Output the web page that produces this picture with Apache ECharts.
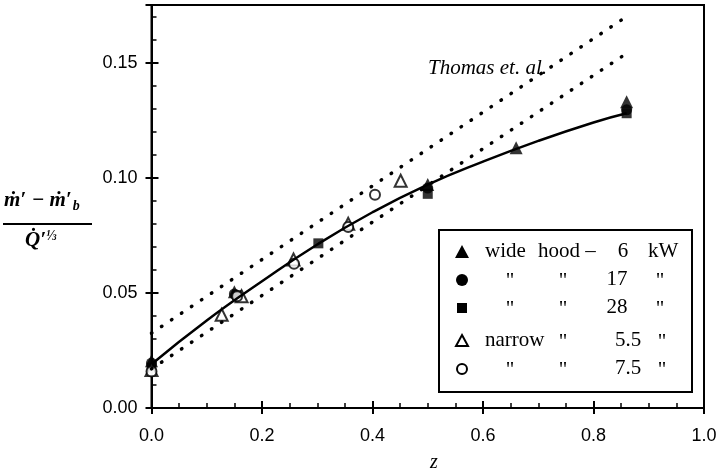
<!DOCTYPE html>
<html>
<head>
<meta charset="utf-8">
<title>entrainment vs z</title>
<script src="https://cdn.jsdelivr.net/npm/echarts@6/dist/echarts.min.js"></script>
</head>
<body style="margin:0;background:#fff">
<div id="chart" style="width:721px;height:473px;"></div>
<script>
// values: [z, (m' - m'b) / Q'^(1/3)]
var wide6 = [[0, 0.0205], [0.15, 0.0505], [0.5, 0.097], [0.66, 0.113], [0.86, 0.133]];
var wide17 = [[0, 0.0195], [0.15, 0.0495], [0.5, 0.0955], [0.86, 0.1295]];
var wide28 = [[0, 0.0175], [0.155, 0.049], [0.302, 0.0715], [0.5, 0.093], [0.86, 0.128]];
var narrow55 = [[0, 0.0165], [0.127, 0.0405], [0.163, 0.0485], [0.257, 0.0645], [0.356, 0.080], [0.451, 0.0987]];
var narrow75 = [[0, 0.0158], [0.155, 0.0485], [0.258, 0.0626], [0.356, 0.0786], [0.4045, 0.0926]];
// fitted curve, read at a few points
var fitCurve = [[0, 0.019], [0.1, 0.038], [0.2, 0.055], [0.3, 0.071], [0.4, 0.085], [0.5, 0.097],
                [0.6, 0.107], [0.7, 0.116], [0.8, 0.124], [0.86, 0.128]];
// Thomas et al. bounds
var thomasUpper = [[0, 0.0325], [0.86, 0.170]];
var thomasLower = [[0, 0.017], [0.86, 0.154]];

var chart = echarts.init(document.getElementById('chart'));

var black = '#000';
var serif = 'Liberation Serif';
var sans = 'Liberation Sans';

var dotted = {color: black, width: 3.5, type: [0.5, 11.5], cap: 'round'};

function baseAxis(extra) {
    var a = {
        type: 'value',
        splitLine: {show: false},
        axisLine: {show: false},
        axisLabel: {show: false},
        axisTick: {show: false}
    };
    for (var k in extra) a[k] = extra[k];
    return a;
}

function legendText(x, y, text, align) {
    return {type: 'text', x: x, y: y, style: {text: text, font: '21px "Liberation Serif"', fill: black,
        align: align || 'left', verticalAlign: 'middle'}};
}

var option = {
    animation: false,
    backgroundColor: '#fff',
    grid: {left: 151.5, right: 17, top: 5, bottom: 65, show: true, borderColor: black, borderWidth: 2},
    xAxis: [
        baseAxis({
            min: 0, max: 1, interval: 0.2, position: 'bottom',
            axisLine: {show: true, lineStyle: {color: black, width: 2}},
            axisTick: {show: true, inside: true, length: 7, lineStyle: {color: black, width: 2}},
            minorTick: {show: true, splitNumber: 4, length: 5, lineStyle: {color: black, width: 1.5}},
            axisLabel: {show: true, color: black, fontSize: 18, fontFamily: sans, margin: 19,
                formatter: function (v) { return v.toFixed(1); }}
        }),
        baseAxis({
            min: 0, max: 1, interval: 0.2, position: 'bottom',
            axisTick: {show: true, inside: false, length: 6, lineStyle: {color: black, width: 2}}
        })
    ],
    yAxis: [
        baseAxis({
            min: 0, max: 0.175, interval: 0.05, position: 'left',
            axisLine: {show: true, lineStyle: {color: black, width: 2}},
            axisTick: {show: true, inside: true, length: 7, lineStyle: {color: black, width: 2}},
            axisLabel: {show: true, color: black, fontSize: 18, fontFamily: sans, margin: 14,
                showMaxLabel: false,
                formatter: function (v) { return v.toFixed(2); }}
        }),
        baseAxis({
            min: 0, max: 0.175, interval: 0.01, position: 'left',
            axisTick: {show: true, inside: true, length: 5, lineStyle: {color: black, width: 1.5}}
        }),
        baseAxis({
            min: 0, max: 0.175, interval: 0.05, position: 'left',
            axisTick: {show: true, inside: false, length: 6, lineStyle: {color: black, width: 2}}
        })
    ],
    series: [
        {type: 'line', data: thomasUpper, symbol: 'none', lineStyle: dotted, silent: true},
        {type: 'line', data: thomasLower, symbol: 'none', lineStyle: dotted, silent: true},
        {type: 'line', data: fitCurve, smooth: true, symbol: 'none',
            lineStyle: {color: black, width: 2.5}},
        {name: 'wide 6', type: 'scatter', data: wide6, symbol: 'triangle', symbolSize: 13,
            itemStyle: {color: black}},
        {name: 'wide 17', type: 'scatter', data: wide17, symbol: 'circle', symbolSize: 11,
            itemStyle: {color: black}},
        {name: 'wide 28', type: 'scatter', data: wide28, symbol: 'rect', symbolSize: 10,
            itemStyle: {color: black}},
        {name: 'narrow 5.5', type: 'scatter', data: narrow55, symbol: 'triangle', symbolSize: 12,
            itemStyle: {color: '#fff', borderColor: black, borderWidth: 2}},
        {name: 'narrow 7.5', type: 'scatter', data: narrow75, symbol: 'circle', symbolSize: 10,
            itemStyle: {color: '#fff', borderColor: black, borderWidth: 2}}
    ],
    graphic: [
        // y axis title as a fraction
        {type: 'text', left: 4, top: 190, style: {
            text: '{m|ṁ′ − ṁ′}{s|b}', fill: black,
            rich: {
                m: {fontSize: 21, fontFamily: serif, fontStyle: 'italic', fontWeight: 'bold'},
                s: {fontSize: 14, fontFamily: serif, fontStyle: 'italic', fontWeight: 'bold', padding: [12, 0, 0, 1]}
            }
        }},
        {type: 'line', shape: {x1: 3, y1: 224, x2: 92, y2: 224}, style: {stroke: black, lineWidth: 2}},
        {type: 'text', left: 25, top: 229, style: {
            text: '{q|Q̇′}{p|⅓}', fill: black,
            rich: {
                q: {fontSize: 21, fontFamily: serif, fontStyle: 'italic', fontWeight: 'bold'},
                p: {fontSize: 14, fontFamily: serif, fontStyle: 'italic', fontWeight: 'bold', padding: [0, 0, 10, 0]}
            }
        }},
        {type: 'text', x: 434, y: 463, style: {text: 'z', fill: black, font: 'italic 20px "Liberation Serif"',
            align: 'center', verticalAlign: 'middle'}},
        {type: 'text', x: 428, y: 68, style: {text: 'Thomas et. al.', fill: black,
            font: 'italic 21px "Liberation Serif"', verticalAlign: 'middle'}},
        // legend box
        {type: 'group', z: 10, children: [
            {type: 'rect', shape: {x: 439, y: 230, width: 253, height: 162},
                style: {fill: '#fff', stroke: black, lineWidth: 2}},
            {type: 'polygon', shape: {points: [[462, 245], [469, 258], [455, 258]]}, style: {fill: black}},
            {type: 'circle', shape: {cx: 462, cy: 280, r: 6}, style: {fill: black}},
            {type: 'rect', shape: {x: 457, y: 303, width: 10, height: 10}, style: {fill: black}},
            {type: 'polygon', shape: {points: [[462, 335], [468, 346], [456, 346]]},
                style: {fill: '#fff', stroke: black, lineWidth: 2}},
            {type: 'circle', shape: {cx: 462, cy: 369, r: 5}, style: {fill: '#fff', stroke: black, lineWidth: 2}},

            legendText(485, 251, 'wide'),
            legendText(538, 251, 'hood –'),
            legendText(623, 251, '6', 'center'),
            legendText(648, 251, 'kW'),

            legendText(510, 281, '"', 'center'),
            legendText(563, 281, '"', 'center'),
            legendText(617, 279, '17', 'center'),
            legendText(660, 281, '"', 'center'),

            legendText(510, 309, '"', 'center'),
            legendText(563, 309, '"', 'center'),
            legendText(617, 307, '28', 'center'),
            legendText(660, 309, '"', 'center'),

            legendText(485, 340, 'narrow'),
            legendText(563, 342, '"', 'center'),
            legendText(628, 340, '5.5', 'center'),
            legendText(662, 342, '"', 'center'),

            legendText(510, 370, '"', 'center'),
            legendText(563, 370, '"', 'center'),
            legendText(628, 368, '7.5', 'center'),
            legendText(662, 370, '"', 'center')
        ]}
    ]
};

chart.setOption(option);
</script>
</body>
</html>
